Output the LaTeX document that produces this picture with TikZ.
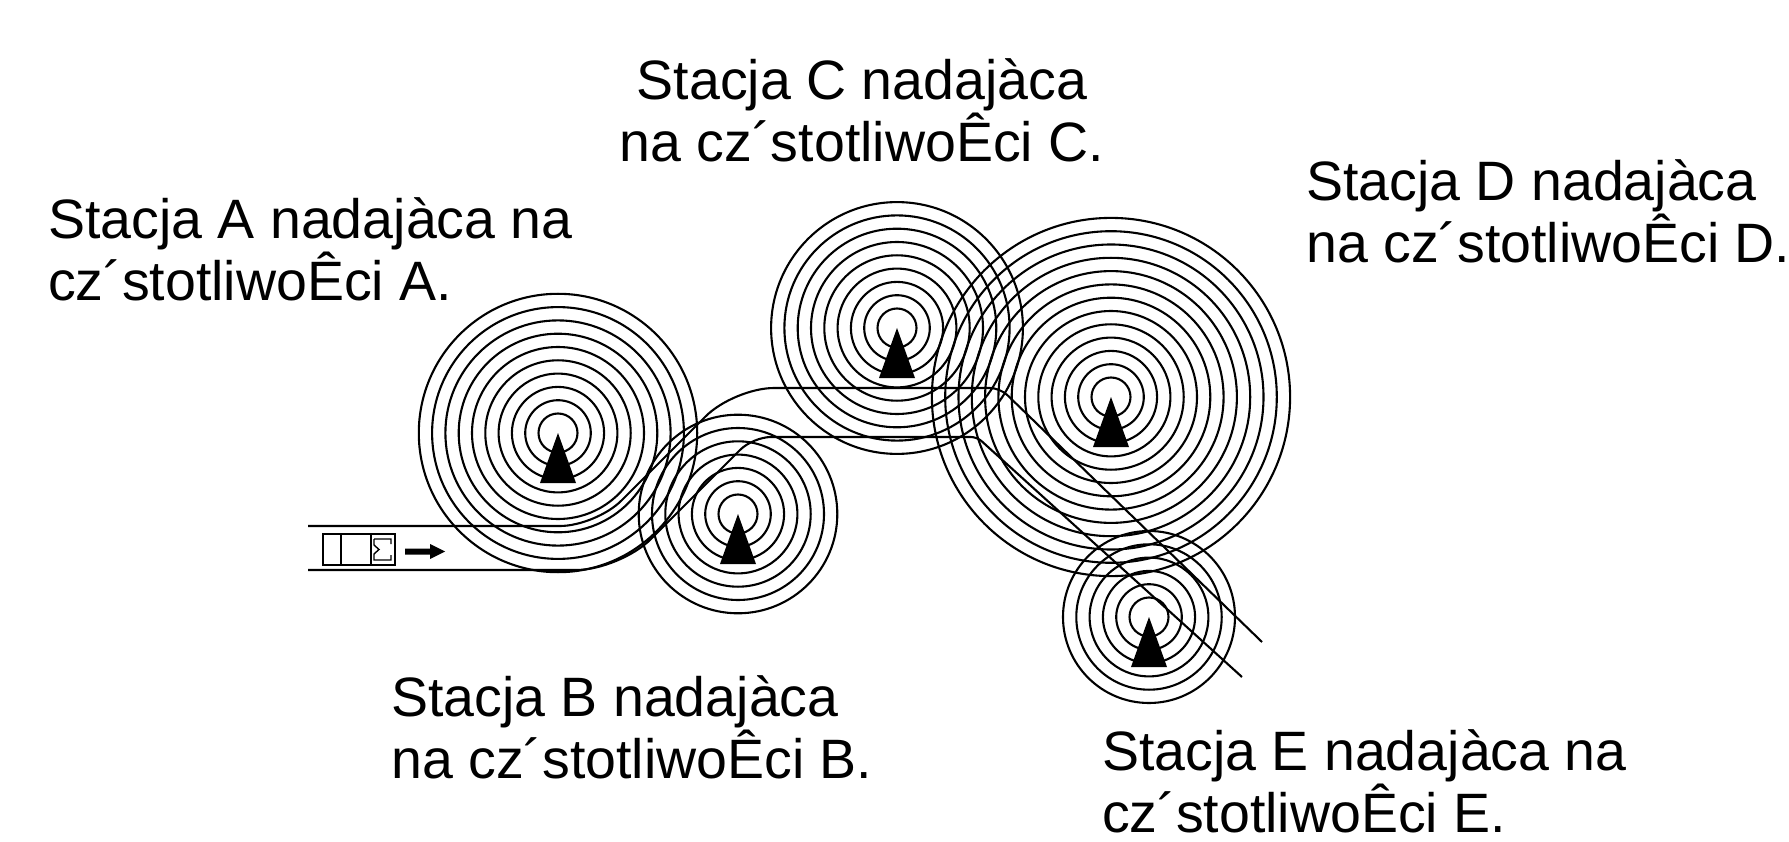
\documentclass[tikz,border=0pt]{standalone}
\usepackage{fontspec}
\setmainfont{Liberation Sans}
\tikzstyle{ring}=[line width=2.1pt]
\tikzstyle{road}=[line width=2.1pt]
\tikzstyle{carline}=[line width=2.2pt]
\tikzstyle{mast}=[fill=black]
\tikzstyle{stationtext}=[inner sep=0pt, font=\fontsize{55.5}{62}\selectfont]

\begin{document}
\begin{tikzpicture}[x=1pt, y=-1pt]
\useasboundingbox (0,0) rectangle (1789,842);

% transmitters: name / x / y / last ring
\foreach \s/\x/\y/\n in {A/558/433/9, B/738/514/6, C/897/328/8, D/1111/397/12, E/1149/617/5} {
  \coordinate (\s) at (\x,\y);
  \foreach \i in {0,...,\n}
    \draw[ring] (\s) circle[radius={19.5pt+13.3pt*\i}];
  \fill[mast] (\s) -- ++(18,50) -- ++(-36,0) -- cycle;
}

% road
\draw[road, rounded corners=36pt] (308,526) -- (596,526) [rounded corners=40pt] -- (734,388) [rounded corners=10pt] -- (1000,388) -- (1262,642);
\draw[road, rounded corners=44pt] (308,570) -- (620,570) [rounded corners=18pt] -- (753,437) [rounded corners=6pt] -- (977,437) -- (1242,677);

% car
\draw[carline] (323,534) rectangle (395,565);
\draw[carline] (341,534) -- (341,565);
\draw[carline] (371,534) -- (371,565);
\draw[line width=1.4pt] (374,539) -- (391,539) -- (391,544)
  (374,539) -- (374,545) -- (379,549.5) -- (374,554) -- (374,560) -- (391,560) -- (391,555);
\fill (405,548.5) -- (430,548.5) -- (430,544) -- (445,551.5) -- (430,559) -- (430,554.5) -- (405,554.5) -- cycle;

\node[stationtext, anchor=north west, align=left] (txtA) at (48,197) {Stacja A nadajàca na\\cz´stotliwoÊci A.};
\node[stationtext, anchor=north west, align=left] (txtB) at (391,675) {Stacja B nadajàca\\na cz´stotliwoÊci B.};
\node[stationtext, anchor=north, align=center] (txtC) at (862,58) {Stacja C nadajàca\\na cz´stotliwoÊci C.};
\node[stationtext, anchor=north west, align=left] (txtD) at (1306,159) {Stacja D nadajàca\\na cz´stotliwoÊci D.};
\node[stationtext, anchor=north west, align=left] (txtE) at (1102,729) {Stacja E nadajàca na\\cz´stotliwoÊci E.};
\end{tikzpicture}
\end{document}
